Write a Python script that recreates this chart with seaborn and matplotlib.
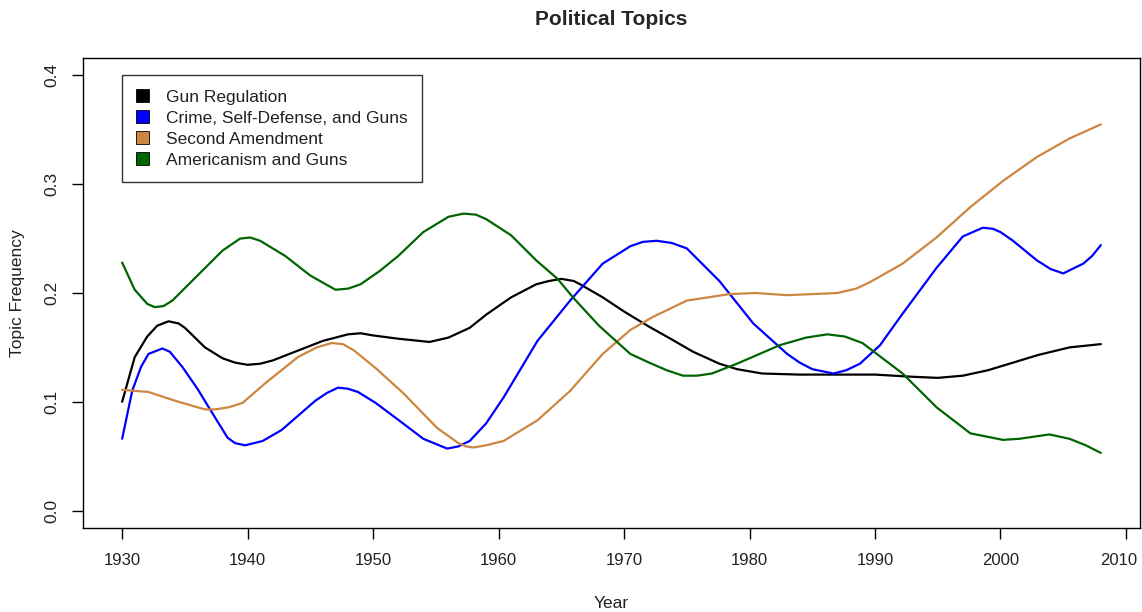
import pandas as pd
import numpy as np
import seaborn as sns
import matplotlib.pyplot as plt
from matplotlib.patches import Patch
from matplotlib.transforms import ScaledTranslation

# values
topics = ["Gun Regulation", "Crime, Self-Defense, and Guns",
          "Second Amendment", "Americanism and Guns"]
colors = ["black", "blue", "peru", "darkgreen"]

gun_years = [1930, 1931, 1932, 1932.8, 1933.7, 1934.5, 1935, 1936.6, 1938, 1939, 1940,
             1941, 1942, 1944, 1946, 1948, 1949, 1950, 1952, 1954.5, 1956, 1957.7, 1959,
             1961, 1963, 1964, 1965, 1966, 1966.5, 1968.3, 1970, 1972, 1973.7, 1975.5,
             1977.6, 1979, 1980, 1981, 1984, 1987, 1990, 1993, 1995, 1997, 1999, 2001,
             2003, 2005.5, 2008]
gun_vals = [0.100, 0.141, 0.160, 0.170, 0.174, 0.172, 0.168, 0.150, 0.140, 0.136, 0.134,
            0.135, 0.138, 0.147, 0.156, 0.162, 0.163, 0.161, 0.158, 0.155, 0.159, 0.168, 0.180,
            0.196, 0.208, 0.211, 0.213, 0.211, 0.208, 0.196, 0.183, 0.169, 0.158, 0.146,
            0.135, 0.130, 0.128, 0.126, 0.125, 0.125, 0.125, 0.123, 0.122, 0.124, 0.129, 0.136,
            0.143, 0.150, 0.153]

crime_years = [1930, 1930.8, 1931.5, 1932.1, 1933.2, 1933.8, 1934.8, 1936, 1936.9, 1938.4,
               1939, 1939.8, 1941.2, 1942.7, 1944, 1945.4, 1946.3, 1947.2, 1948, 1948.8,
               1950.2, 1952.4, 1954, 1955.9, 1956.8, 1957.7, 1959, 1960.4, 1963.1, 1965.7,
               1968.3, 1970.5, 1971.5, 1972.6, 1973.8, 1975, 1977.6, 1980.3, 1983, 1984,
               1985, 1986.7, 1987.7, 1988.8, 1990.4, 1992.2, 1994.9, 1997, 1998.6, 1999.4,
               2000, 2001, 2002.9, 2004, 2005, 2006.6, 2007.3, 2008]
crime_vals = [0.066, 0.110, 0.132, 0.144, 0.149, 0.146, 0.132, 0.112, 0.095, 0.067,
              0.062, 0.060, 0.064, 0.074, 0.087, 0.101, 0.108, 0.113, 0.112, 0.109,
              0.099, 0.080, 0.066, 0.057, 0.059, 0.064, 0.080, 0.104, 0.156, 0.193,
              0.227, 0.243, 0.247, 0.248, 0.246, 0.241, 0.211, 0.172, 0.144, 0.136,
              0.130, 0.126, 0.129, 0.135, 0.152, 0.181, 0.223, 0.252, 0.260, 0.259,
              0.256, 0.248, 0.230, 0.222, 0.218, 0.227, 0.234, 0.244]

second_years = [1930, 1932.1, 1934.2, 1936.6, 1937.4, 1938.5, 1939.6, 1941.4, 1944, 1945.5,
                1946.7, 1947.6, 1948.5, 1950.2, 1952.4, 1955.1, 1956.8, 1957.4, 1958, 1959,
                1960.4, 1963.1, 1965.7, 1968.3, 1970.5, 1972.3, 1975, 1978.4, 1980.5, 1983,
                1985, 1987, 1988.5, 1989.6, 1992.2, 1994.9, 1997.6, 2000.2, 2002.9, 2005.5,
                2008]
second_vals = [0.111, 0.109, 0.101, 0.093, 0.093, 0.095, 0.099, 0.117, 0.141, 0.150,
               0.154, 0.153, 0.147, 0.131, 0.108, 0.076, 0.062, 0.059, 0.058, 0.060,
               0.064, 0.083, 0.110, 0.144, 0.166, 0.178, 0.193, 0.199, 0.200, 0.198,
               0.199, 0.200, 0.204, 0.210, 0.227, 0.251, 0.279, 0.303, 0.325, 0.342,
               0.355]

amer_years = [1930, 1931, 1932, 1932.6, 1933.3, 1934, 1936, 1938, 1939.4, 1940.2, 1941,
              1943, 1945, 1947, 1948, 1949, 1950.5, 1952, 1954, 1956, 1957.2, 1958.2, 1959,
              1961, 1963, 1964.7, 1966, 1968, 1970.5, 1972, 1973.4, 1974.7, 1975.8, 1977,
              1979, 1982.4, 1984.5, 1986.2, 1987.6, 1989, 1992.2, 1994.9, 1997.6, 2000.2,
              2001.5, 2003.9, 2005.5, 2006.8, 2008]
amer_vals = [0.228, 0.203, 0.190, 0.187, 0.188, 0.193, 0.216, 0.239, 0.250, 0.251, 0.248,
             0.234, 0.216, 0.203, 0.204, 0.208, 0.220, 0.234, 0.256, 0.270, 0.273, 0.272, 0.268,
             0.253, 0.230, 0.213, 0.195, 0.170, 0.144, 0.136, 0.129, 0.124, 0.124, 0.126,
             0.135, 0.152, 0.159, 0.162, 0.160, 0.154, 0.126, 0.095, 0.071, 0.065,
             0.066, 0.070, 0.066, 0.060, 0.053]

x_ticks = [1930, 1940, 1950, 1960, 1970, 1980, 1990, 2000, 2010]
y_ticks = [0.0, 0.1, 0.2, 0.3, 0.4]
y_labels = ["0.0", "0.1", "0.2", "0.3", "0.4"]

# long table for seaborn
frames = []
for name, yrs, vals in zip(topics, [gun_years, crime_years, second_years, amer_years],
                           [gun_vals, crime_vals, second_vals, amer_vals]):
    frames.append(pd.DataFrame({"year": yrs, "freq": vals, "topic": name}))
df = pd.concat(frames, ignore_index=True)

sns.set_style("ticks")
plt.rcParams['font.family'] = ['Liberation Sans', 'DejaVu Sans']

fig = plt.figure(figsize=(11.42, 6.12), dpi=100)
ax = fig.add_axes([83 / 1142, 1 - 528 / 612, (1140 - 83) / 1142, (528 - 58) / 612])

sns.lineplot(data=df, x="year", y="freq", hue="topic", hue_order=topics,
             palette=colors, estimator=None, sort=True, linewidth=1.6,
             legend=False, ax=ax)

ax.set_xlim(1926.88, 2011.12)
ax.set_ylim(-0.016, 0.416)
ax.set_xticks(x_ticks)
ax.set_xticklabels([str(t) for t in x_ticks], fontsize=12)
ax.set_yticks(y_ticks)
ax.set_yticklabels(y_labels, fontsize=12.5, rotation=90, va="center")
ax.tick_params(axis="both", direction="out", length=8, width=1, color="black",
               labelcolor="#222222")
ax.tick_params(axis="x", pad=10)
ax.tick_params(axis="y", pad=9)
# nudge the last year label so it stays inside the picture
last = ax.get_xticklabels()[-1]
last.set_transform(last.get_transform() + ScaledTranslation(-5 / 72, 0, fig.dpi_scale_trans))
for s in ax.spines.values():
    s.set_visible(True)
    s.set_color("black")
    s.set_linewidth(1)

ax.set_xlabel("Year", fontsize=12.5, labelpad=20, color="#222222")
ax.set_ylabel("Topic Frequency", fontsize=12.5, labelpad=14, color="#222222")
ax.set_title("Political Topics", fontsize=15, fontweight="bold", pad=24)

handles = [Patch(facecolor=c, edgecolor="black", linewidth=0.6) for c in colors]
leg = ax.legend(handles, topics, loc="upper left", bbox_to_anchor=(1930, 0.4),
                bbox_transform=ax.transData, borderaxespad=0, fontsize=12.5,
                frameon=True, fancybox=False, edgecolor="black",
                handlelength=0.75, handleheight=0.75, handletextpad=1.0,
                labelspacing=0.32, borderpad=0.8)
leg.get_frame().set_linewidth(1)
for t in leg.get_texts():
    t.set_color("#222222")

fig.savefig("out.png", dpi=100, facecolor="white")
